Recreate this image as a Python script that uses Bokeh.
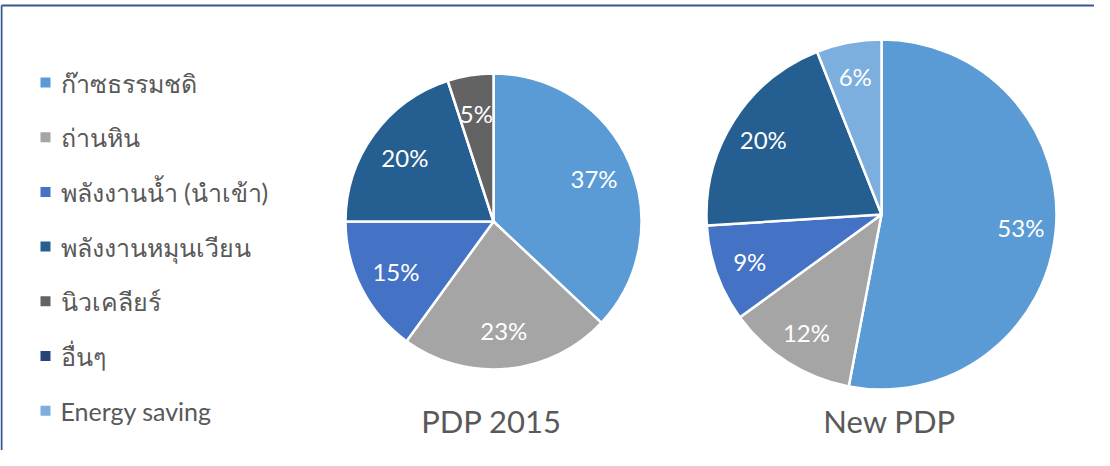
import numpy as np
from bokeh.plotting import figure
from bokeh.models import Range1d, ColumnDataSource
from bokeh.core.properties import value
from bokeh.embed import file_html
from bokeh.resources import INLINE

# ---------------- data ----------------
categories = ["ก๊าซธรรมชดิ", "ถ่านหิน", "พลังงานน้ำ (นำเข้า)", "พลังงานหมุนเวียน",
              "นิวเคลียร์", "อื่นๆ", "Energy saving"]
pdp2015 = [37, 23, 15, 20, 5, 0, 0]
new_pdp = [53, 12, 9, 20, 0, 0, 6]
pie_titles = ["PDP 2015", "New PDP"]
colors = ["#5B9BD5", "#A5A5A5", "#4472C4", "#255E91", "#636363", "#264478", "#7CAFDD"]

# ---------------- layout ----------------
W, H = 1094, 450
FONT = "Lato"
TXT = "#595959"

p = figure(width=W, height=H, x_range=Range1d(8, 8 + W), y_range=Range1d(-(8 + H), -8),
           output_backend="svg", toolbar_location=None, min_border=0)
p.axis.visible = False
p.grid.visible = False
p.outline_line_color = None
p.background_fill_color = "white"

# frame (top and left visible; right/bottom fall outside the window)
p.line([9, 1110], [-13, -13], line_color="#34598F", line_width=2)
p.line([9, 9], [-13, -470], line_color="#34598F", line_width=2)

pies = [(pdp2015, 501, 229, 148, 499, 0.74), (new_pdp, 889, 222, 175, 897, 0.8)]
for (vals, cx, cy, r, tx, lf), title in zip(pies, pie_titles):
    vals = np.array(vals, dtype=float)
    frac = vals / vals.sum()
    cum_after = np.cumsum(frac)
    cum_before = cum_after - frac
    keep = vals > 0
    start = np.pi / 2 - 2 * np.pi * cum_after[keep]
    end = np.pi / 2 - 2 * np.pi * cum_before[keep]
    mid = (start + end) / 2
    src = ColumnDataSource(dict(
        start=start, end=end,
        color=[c for c, k in zip(colors, keep) if k],
        lx=cx + lf * r * np.cos(mid),
        ly=-cy + lf * r * np.sin(mid),
        label=[f"{int(v)}%" for v in vals[keep]],
    ))
    p.wedge(x=cx, y=-cy, radius=r, start_angle="start", end_angle="end",
            fill_color="color", line_color="white", line_width=2.5, source=src)
    p.text(x="lx", y="ly", text="label", source=src, text_align="center",
           text_baseline="middle", text_color="white", text_font=value(FONT),
           text_font_size="24px")
    p.text(x=[tx], y=[-428], text=[title], text_align="center", text_baseline="middle",
           text_color=TXT, text_font=value(FONT), text_font_size="31px")

# legend
idx = np.arange(len(categories))
leg = ColumnDataSource(dict(
    x=[53] * len(categories),
    tx=[68] * len(categories),
    y=-(90 + idx * 54.7),
    label=categories,
    color=colors,
))
p.scatter(x="x", y="y", marker="square", size=10, fill_color="color", line_color=None, source=leg)
p.text(x="tx", y="y", text="label", source=leg, text_align="left", text_baseline="middle",
       text_color=TXT, text_font=value(FONT), text_font_size="25px")

open("out.html", "w").write(file_html(p, INLINE))
